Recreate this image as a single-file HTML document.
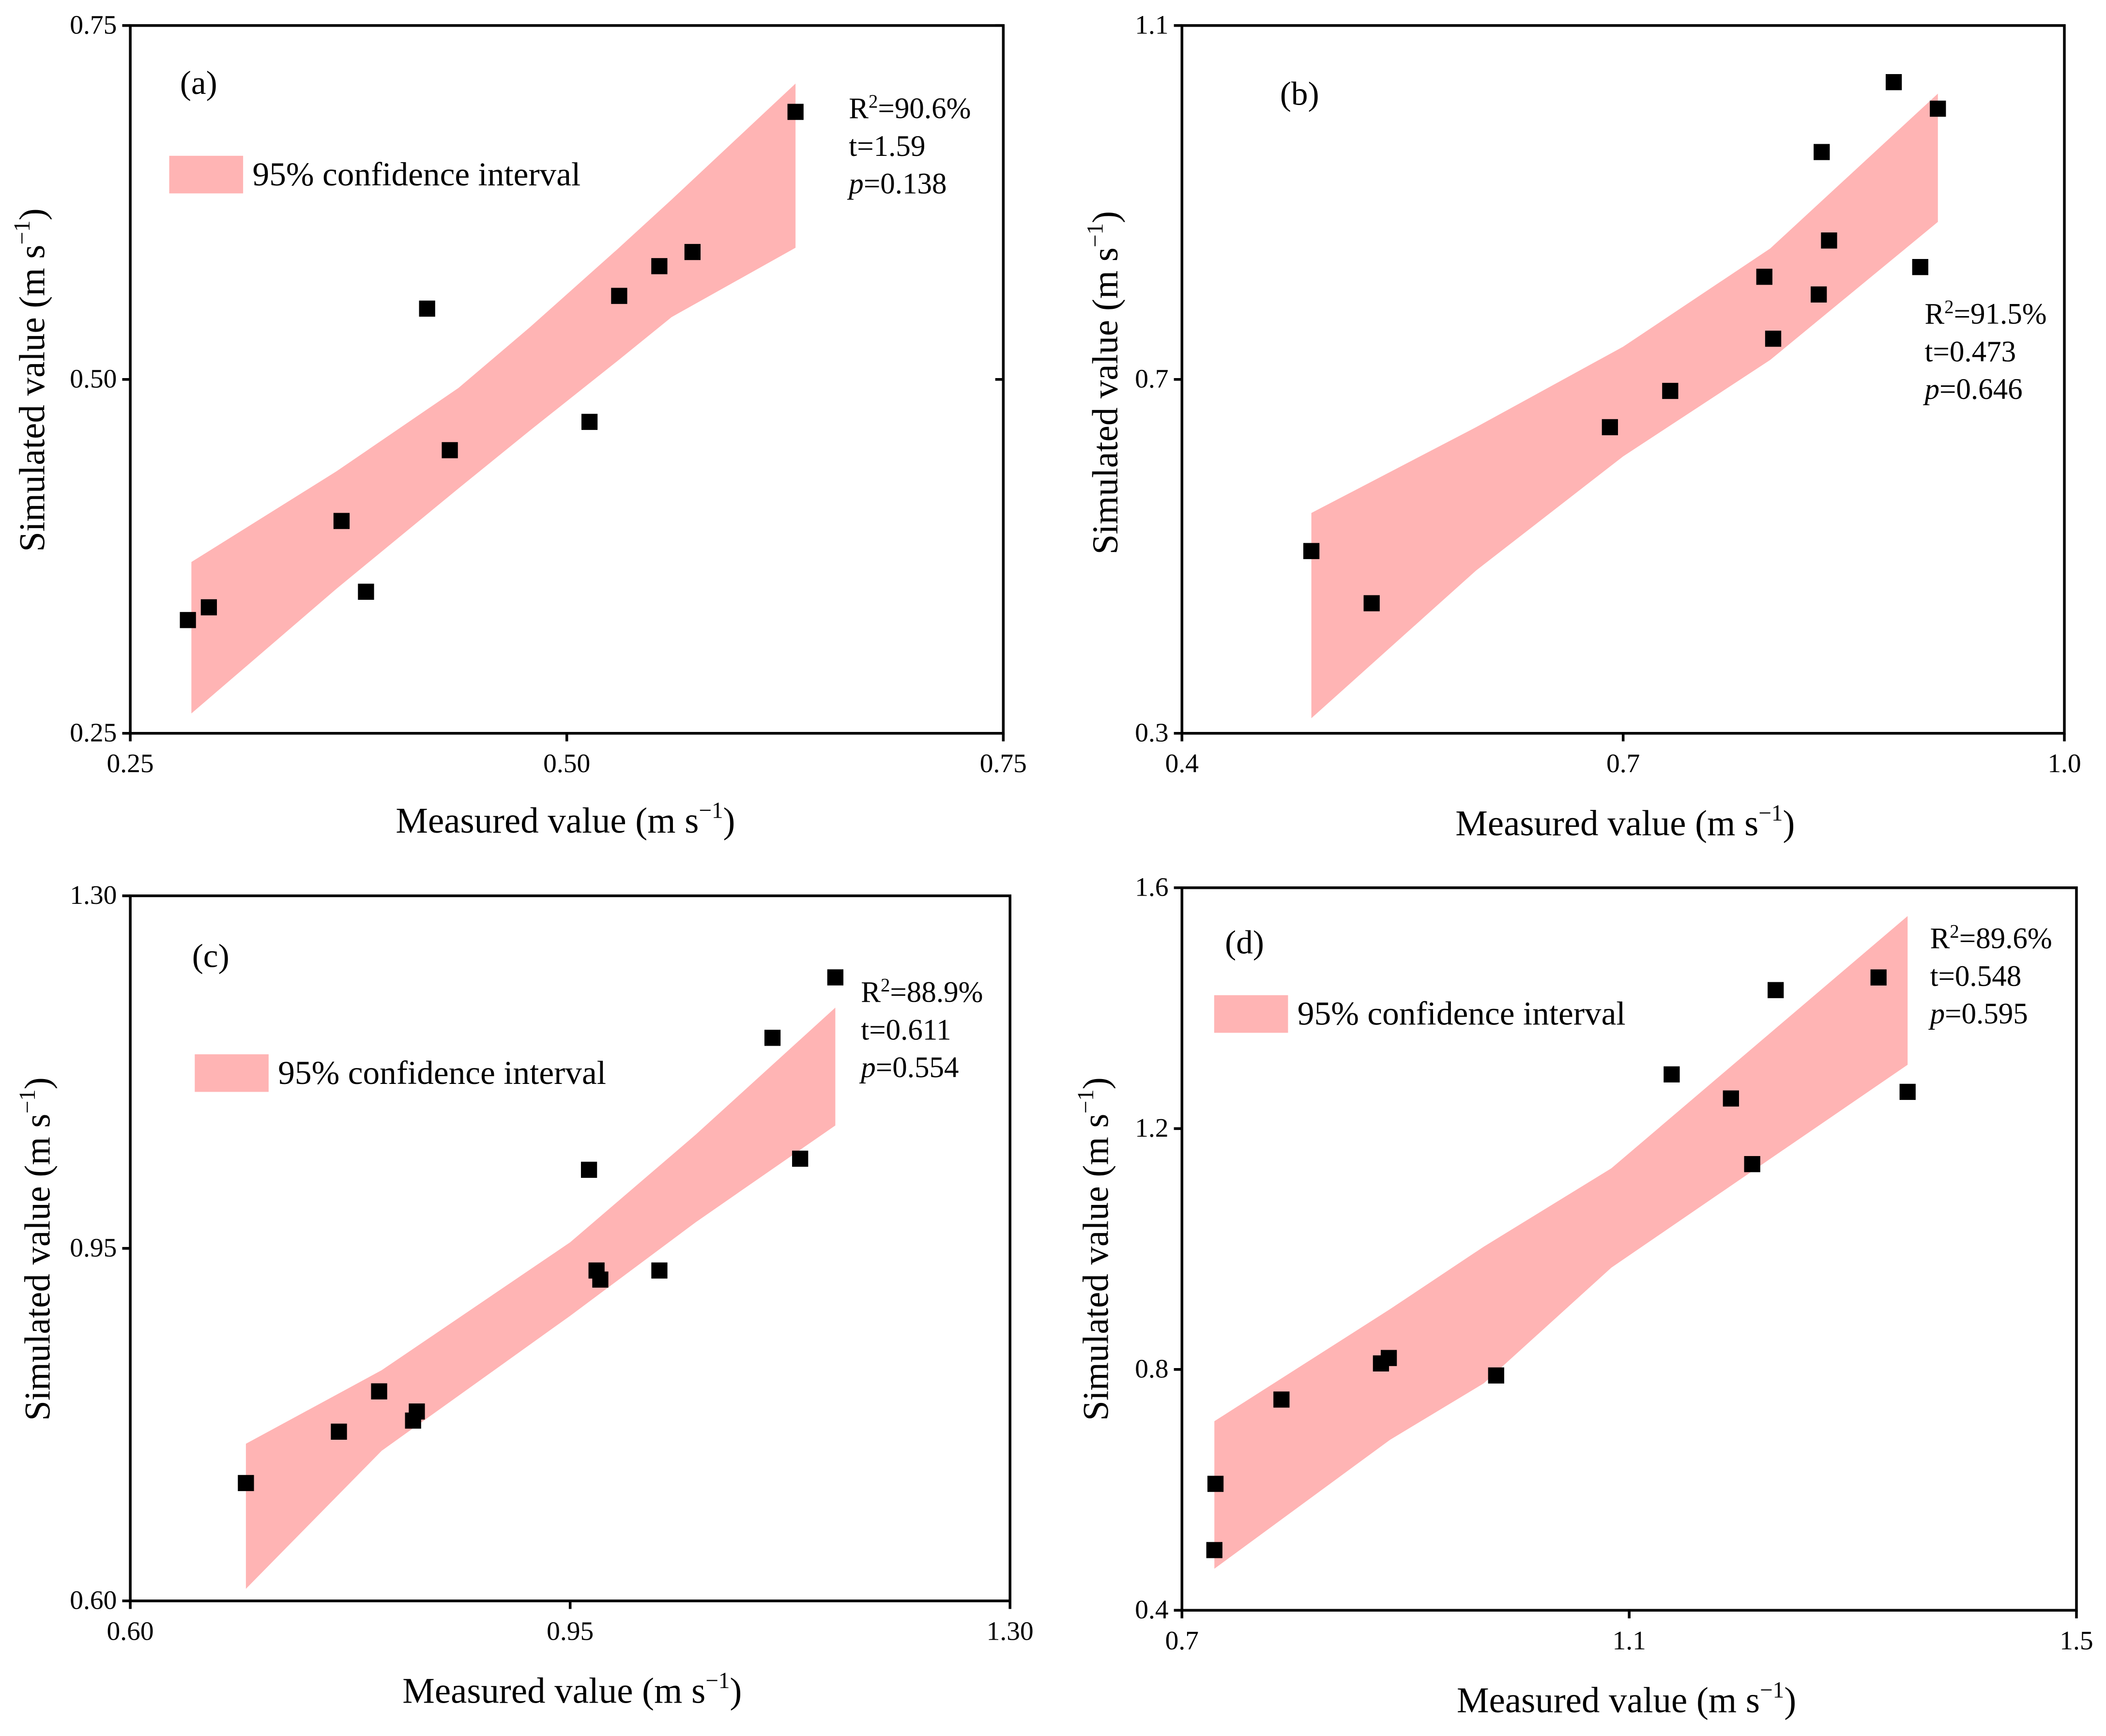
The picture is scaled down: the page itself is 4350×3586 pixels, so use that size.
<!DOCTYPE html>
<html><head><meta charset="utf-8"><style>
html,body{margin:0;padding:0;background:#fff;}
svg{display:block;width:4350px;height:3586px;font-family:"Liberation Serif",serif;}
</style></head><body>
<svg id="fig" viewBox="0 0 1568 1292.6" preserveAspectRatio="none" xmlns="http://www.w3.org/2000/svg"></svg>
<script>
// Panel (a)
const aMeasured=[0.283,0.295,0.371,0.385,0.420,0.433,0.513,0.530,0.553,0.572,0.631];
const aSimulated=[0.330,0.339,0.400,0.350,0.550,0.450,0.470,0.559,0.580,0.590,0.689];
const aBandX=[0.285,0.368,0.438,0.479,0.529,0.560,0.631];
const aBandHi=[0.371,0.435,0.494,0.537,0.592,0.627,0.709];
const aBandLo=[0.264,0.352,0.423,0.464,0.513,0.544,0.593];
const aTicks=["0.25","0.50","0.75"];
// Panel (b)
const bMeasured=[0.488,0.529,0.691,0.732,0.796,0.802,0.833,0.835,0.840,0.884,0.902,0.914];
const bSimulated=[0.506,0.447,0.646,0.687,0.816,0.746,0.796,0.957,0.857,1.036,0.827,1.006];
const bBandX=[0.488,0.6,0.7,0.8,0.914];
const bBandHi=[0.549,0.646,0.737,0.848,1.023];
const bBandLo=[0.317,0.484,0.613,0.722,0.878];
const bXTicks=["0.4","0.7","1.0"];
const bYTicks=["0.3","0.7","1.1"];
// Panel (c)
const cMeasured=[0.692,0.766,0.798,0.825,0.828,0.965,0.971,0.974,1.021,1.111,1.133,1.161];
const cSimulated=[0.717,0.768,0.808,0.779,0.788,1.028,0.928,0.919,0.928,1.159,1.039,1.219];
const cBandX=[0.692,0.8,0.95,1.05,1.161];
const cBandHi=[0.756,0.829,0.956,1.063,1.189];
const cBandLo=[0.612,0.749,0.883,0.976,1.072];
const cTicks=["0.60","0.95","1.30"];
// Panel (d)
const dMeasured=[0.729,0.730,0.789,0.878,0.885,0.981,1.138,1.191,1.210,1.231,1.323,1.349];
const dSimulated=[0.500,0.610,0.750,0.810,0.819,0.790,1.290,1.250,1.141,1.430,1.451,1.261];
const dBandX=[0.729,0.886,0.970,1.084,1.349];
const dBandHi=[0.714,0.900,1.004,1.134,1.553];
const dBandLo=[0.469,0.683,0.777,0.969,1.306];
const dXTicks=["0.7","1.1","1.5"];
const dYTicks=["0.4","0.8","1.2","1.6"];

const NS="http://www.w3.org/2000/svg";
const svg=document.getElementById('fig');
function mk(tag,attrs,parent,text){const e=document.createElementNS(NS,tag);for(const k in attrs)e.setAttribute(k,attrs[k]);if(text!==undefined)e.textContent=text;(parent||svg).appendChild(e);return e;}

function panel(o){
  const g=mk('g',{});
  
  
  const X=v=>o.x0+(v-o.xmin)/(o.xmax-o.xmin)*(o.x1-o.x0);
  const Y=v=>o.y1-(v-o.ymin)/(o.ymax-o.ymin)*(o.y1-o.y0);
  let pts=o.bx.map((v,i)=>X(v)+','+Y(o.hi[i]));
  pts=pts.concat(o.bx.map((v,i)=>X(v)+','+Y(o.lo[i])).reverse());
  const band=mk('polygon',{points:pts.join(' '),fill:'#ffb4b4'},g);
  
  
  o.mx.forEach((v,i)=>{
    const r=mk('rect',{x:X(v)-6,y:Y(o.sy[i])-6,width:12,height:12,fill:'#000'},g);
    
    
  });
  const f=mk('rect',{x:o.x0,y:o.y0,width:o.x1-o.x0,height:o.y1-o.y0,fill:'none',stroke:'#000','stroke-width':2},g);
  
  
  o.xt.forEach(t=>{
    const v=parseFloat(t),px=X(v);
    mk('line',{x1:px,y1:o.y1,x2:px,y2:o.y1+6,stroke:'#000','stroke-width':2},g);
    const tl=mk('text',{x:px,y:o.y1+29,'text-anchor':'middle','font-size':20},g,t);
    
    
  });
  o.yt.forEach(t=>{
    const v=parseFloat(t),py=Y(v);
    mk('line',{x1:o.x0-6,y1:py,x2:o.x0,y2:py,stroke:'#000','stroke-width':2},g);
    if(o.rightTick)mk('line',{x1:o.x1,y1:py,x2:o.x1-6,y2:py,stroke:'#000','stroke-width':2},g);
    const tl=mk('text',{x:o.x0-10,y:py+6,'text-anchor':'end','font-size':20},g,t);
    
    
  });
  const xt=mk('text',{x:o.xtx,y:o.xty,'text-anchor':'middle','font-size':27},g);
  
  
  xt.innerHTML='Measured value (m s<tspan dy="-11" font-size="17">\u22121</tspan><tspan dy="11">)</tspan>';
  const yt=mk('text',{x:0,y:0,'text-anchor':'middle','font-size':27,transform:`translate(${o.ytx},${o.yty}) rotate(-90)`},g);
  
  
  yt.innerHTML='Simulated value (m s<tspan dy="-11" font-size="17">\u22121</tspan><tspan dy="11">)</tspan>';
  const pl=mk('text',{x:o.lx,y:o.ly,'font-size':25},g,'('+o.id+')');
  
  
  const st=mk('text',{x:o.sx,y:o.syy,'font-size':22},g);
  
  
  st.innerHTML=`<tspan x="${o.sx}">R<tspan dy="-8" font-size="14">2</tspan><tspan dy="8">=${o.r2}</tspan></tspan><tspan x="${o.sx}" dy="28">t=${o.t}</tspan><tspan x="${o.sx}" dy="28"><tspan font-style="italic">p</tspan>=${o.p}</tspan>`;
  if(o.leg){
    const lg=mk('g',{},g);
    
    
    mk('rect',{x:o.leg[0],y:o.leg[1],width:55,height:28,fill:'#ffb4b4'},lg);
    mk('text',{x:o.leg[0]+62,y:o.leg[1]+22,'font-size':25},lg,'95% confidence interval');
  }
}

panel({id:'a',x0:97,x1:747,y0:19,y1:546,xmin:0.25,xmax:0.75,ymin:0.25,ymax:0.75,
  mx:aMeasured,sy:aSimulated,bx:aBandX,hi:aBandHi,lo:aBandLo,xt:aTicks,yt:aTicks,rightTick:true,
  xtx:421,xty:620,ytx:33,yty:283,lx:134,ly:70,sx:632,syy:88,r2:'90.6%',t:'1.59',p:'0.138',leg:[126,116]});
panel({id:'b',x0:880,x1:1537,y0:19,y1:546,xmin:0.4,xmax:1.0,ymin:0.3,ymax:1.1,
  mx:bMeasured,sy:bSimulated,bx:bBandX,hi:bBandHi,lo:bBandLo,xt:bXTicks,yt:bYTicks,
  xtx:1210,xty:622,ytx:832,yty:285,lx:953,ly:78,sx:1433,syy:241,r2:'91.5%',t:'0.473',p:'0.646'});
panel({id:'c',x0:97,x1:752,y0:667,y1:1192,xmin:0.6,xmax:1.3,ymin:0.6,ymax:1.3,
  mx:cMeasured,sy:cSimulated,bx:cBandX,hi:cBandHi,lo:cBandLo,xt:cTicks,yt:cTicks,
  xtx:426,xty:1268,ytx:37,yty:930,lx:143,ly:720,sx:641,syy:746,r2:'88.9%',t:'0.611',p:'0.554',leg:[145,785]});
panel({id:'d',x0:880,x1:1546,y0:661,y1:1199,xmin:0.7,xmax:1.5,ymin:0.4,ymax:1.6,
  mx:dMeasured,sy:dSimulated,bx:dBandX,hi:dBandHi,lo:dBandLo,xt:dXTicks,yt:dYTicks,
  xtx:1211,xty:1275,ytx:825,yty:930,lx:912,ly:710,sx:1437,syy:706,r2:'89.6%',t:'0.548',p:'0.595',leg:[904,741]});
</script>
</body></html>
